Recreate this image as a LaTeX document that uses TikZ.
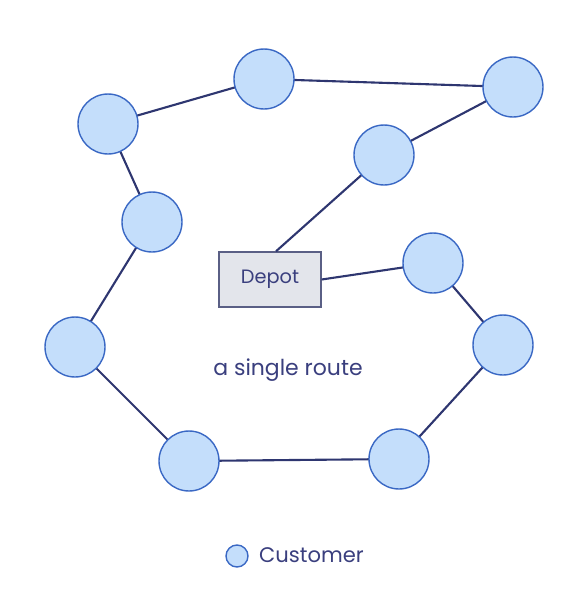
\documentclass[tikz,border=0pt]{standalone}
\usepackage{fontspec}
\setmainfont{Poppins}
\usepackage{tikz}
\usetikzlibrary{calc}

\definecolor{custfill}{HTML}{C4DEFB}
\definecolor{custedge}{HTML}{3A68C4}
\definecolor{routeline}{HTML}{2E3670}
\definecolor{depotfill}{HTML}{E3E5EB}
\definecolor{depotedge}{HTML}{5A5F85}
\definecolor{txt}{HTML}{3A3F7E}

\tikzset{
    customer/.style={circle, draw=custedge, fill=custfill, line width=0.8pt, minimum size=1.2cm, inner sep=0pt},
    depot/.style={rectangle, draw=depotedge, fill=depotfill, line width=0.8pt, minimum width=2.04cm, minimum height=1.1cm, text=txt, font=\fontsize{11}{13}\selectfont},
    route/.style={draw=routeline, line width=1.2pt}
}

\begin{document}
\begin{tikzpicture}[x=0.02cm, y=-0.02cm]
    \useasboundingbox (0,0) rectangle (577,589);

    % Kunden
    \foreach \n/\x/\y in {c1/108/124, c2/264/79, c3/513/87, c4/384/155, c5/152/222,
                          c6/433/263, c7/75/347, c8/503/345, c9/189/461, c10/399/459} {
        \coordinate (\n) at (\x,\y);
    }

    % Depot
    \node[depot] (D) at (270,279.5) {Depot};

    % Route
    \draw[route] (c1) -- (c2) -- (c3) -- (c4) -- ($(D.north)+(6,0)$);
    \draw[route] (D.east) -- (c6) -- (c8) -- (c10) -- (c9) -- (c7) -- (c5) -- (c1);

    \foreach \n in {c1,c2,c3,c4,c5,c6,c7,c8,c9,c10} {
        \node[customer] at (\n) {};
    }

    \node[text=txt, font=\fontsize{12.5}{15}\selectfont] (label) at (288,370) {a single route};

    % Legende
    \node[customer, minimum size=0.44cm] (leg) at (237,556) {};
    \node[text=txt, font=\large, anchor=west] (legtext) at (253,555) {Customer};
\end{tikzpicture}
\end{document}
